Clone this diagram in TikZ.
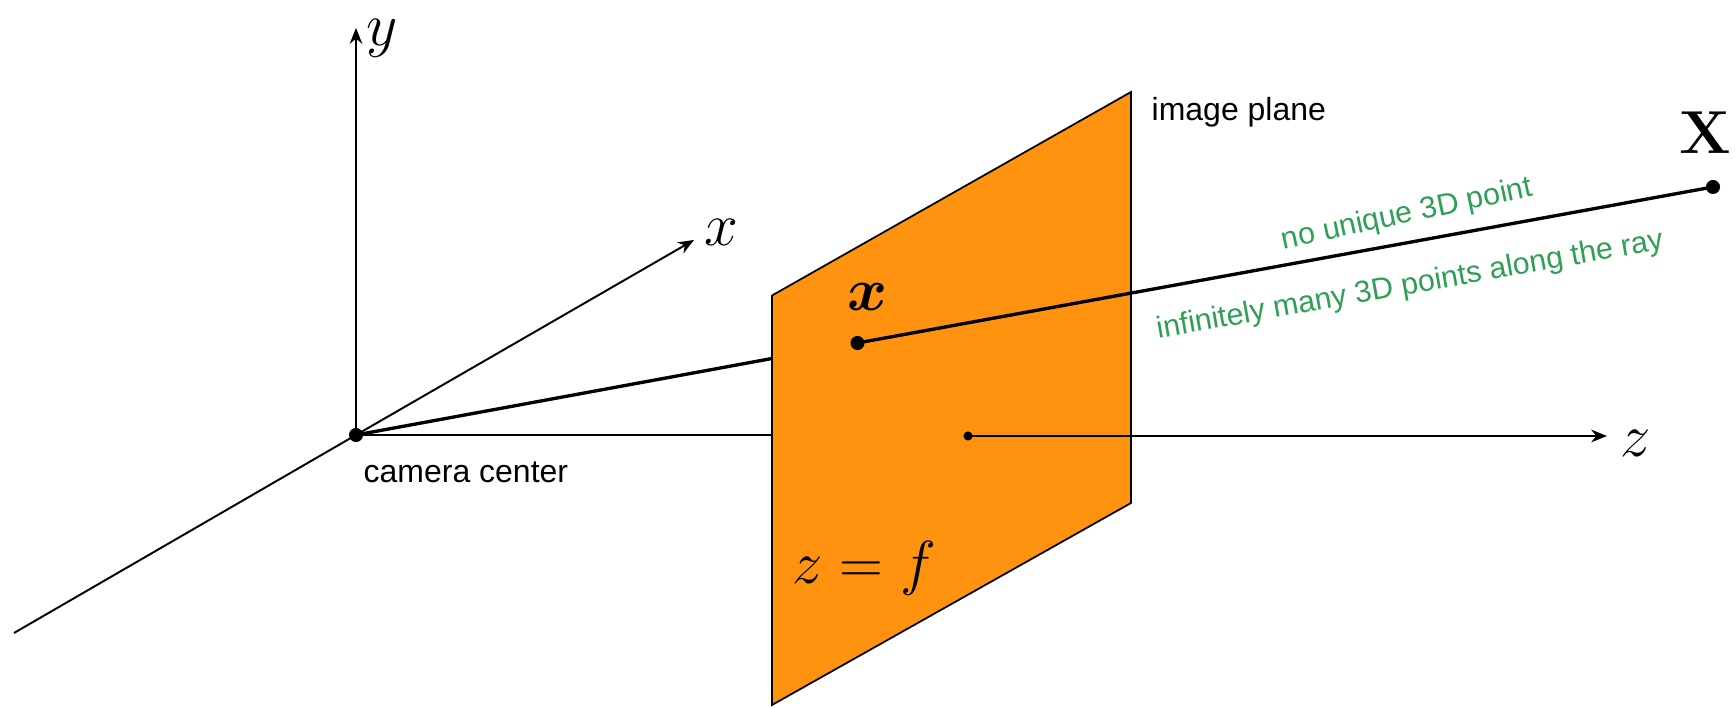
\documentclass[tikz,border=0pt]{standalone}
\usepackage{amsmath,amssymb}
\usepackage[no-math]{fontspec}
\setmainfont{Liberation Sans}
\definecolor{planeorange}{RGB}{255,146,15}
\definecolor{raygreen}{RGB}{45,160,85}
\usetikzlibrary{arrows.meta,calc}
\tikzset{
    axisline/.style={line width=0.55pt, -{Stealth[length=4.5pt,width=3.6pt]}},
    rayline/.style={line width=0.95pt},
    bigdot/.style={circle, fill=black, inner sep=0pt, minimum size=4pt},
    smalldot/.style={circle, fill=black, inner sep=0pt, minimum size=2.6pt},
    mathlabel/.style={inner sep=0pt, font=\fontsize{18.5}{22}\selectfont},
    graylabel/.style={inner sep=0pt, anchor=west, font=\fontsize{9.1}{11}\selectfont},
    greenlabel/.style={inner sep=0pt, text=raygreen, font=\fontsize{8.65}{11}\selectfont}
}

\begin{document}
\begin{tikzpicture}
    \useasboundingbox (0,0) rectangle (17.35,7.08);

    \node[bigdot] (center) at (3.56,2.73) {};
    \coordinate (ytip) at (3.56,6.80);
    \coordinate (xtip) at (6.94,4.68);
    \coordinate (xtail) at (0.14,0.75);

    \draw[axisline] (center.center) -- (ytip);
    \draw[axisline] (center.center) -- (xtip);
    \draw[line width=0.55pt] (center.center) -- (xtail);

    \coordinate (planeA) at (7.72,4.125);
    \coordinate (planeB) at (11.31,6.16);
    \coordinate (planeC) at (11.31,2.05);
    \coordinate (planeD) at (7.72,0.03);
    \coordinate (rayhit) at (7.72,3.495);
    \coordinate (zhit) at (7.72,2.73);

    \draw[line width=0.6pt] (center.center) -- (zhit);
    \draw[rayline] (center.center) -- (rayhit);
    \draw[line width=0.5pt, fill=planeorange] (planeA) -- (planeB) -- (planeC) -- (planeD) -- cycle;

    \node[smalldot] (principal) at (9.68,2.72) {};
    \coordinate (ztip) at (16.07,2.72);
    \draw[axisline] (principal.center) -- (ztip);

    \node[bigdot] (imgpoint) at (8.575,3.65) {};
    \node[bigdot] (worldpoint) at (17.13,5.21) {};
    \draw[rayline] (imgpoint.center) -- (worldpoint.center);

    \node[mathlabel] (ylabel) at (3.82,6.70) {$y$};
    \node[mathlabel] (xlabel) at (7.21,4.76) {$x$};
    \node[mathlabel] (zlabel) at (16.36,2.65) {$z$};
    \node[mathlabel] (imglabel) at (8.68,4.11) {$\boldsymbol{x}$};
    \node[mathlabel, font=\fontsize{18.6}{22}\selectfont] (worldlabel) at (17.05,5.75) {$\mathbf{X}$};
    \node[mathlabel, font=\fontsize{16.4}{20}\selectfont] (planelabel) at (8.64,1.40) {$z=f$};

    \node[graylabel] (planename) at (11.51,5.96) {image plane};
    \node[graylabel] (centername) at (3.63,2.36) {camera center};
    \node[greenlabel, rotate=12] (raytop) at (14.07,4.93) {no unique 3D point};
    \node[greenlabel, rotate=10] (raybottom) at (14.10,4.22) {infinitely many 3D points along the ray};
\end{tikzpicture}
\end{document}
